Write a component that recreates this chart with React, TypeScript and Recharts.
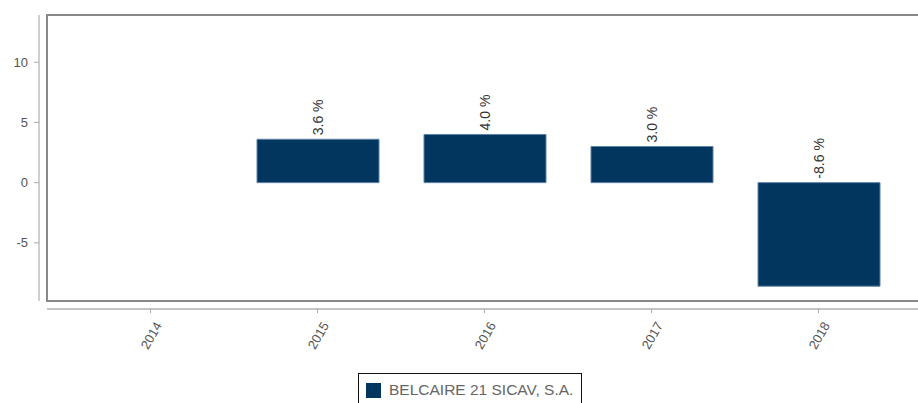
import React from "react";
import { BarChart, Bar, XAxis, YAxis, LabelList, Legend, ReferenceArea } from "recharts";

const years = ["2014", "2015", "2016", "2017", "2018"];
const returns: (number | null)[] = [null, 3.6, 4.0, 3.0, -8.6];
const seriesName = "BELCAIRE 21 SICAV, S.A.";
const yTicks = [-5, 0, 5, 10];
const yMin = -9.83;
const yMax = 13.92;

const barColor = "#03365f";
const font = "'Liberation Sans', Arial, sans-serif";
const padLeft = 20;
const padRight = 28;

const YTick = (props: any) => {
  const { x, y, payload } = props;
  return (
    <g>
      <line x1={x - 13} x2={x - 8} y1={y} y2={y} stroke="#aaa" />
      <text x={x - 19} y={y} dy="0.35em" textAnchor="end" fill="#555" fontSize={13} fontFamily={font}>
        {payload.value}
      </text>
    </g>
  );
};

const XTick = (props: any) => {
  const { x, y, payload } = props;
  const tx = x + 8;
  const ty = y + 22;
  return (
    <g>
      <line x1={x} x2={x} y1={y + 8} y2={y + 12} stroke="#aaa" />
      <text
        x={tx}
        y={ty}
        dy="0.35em"
        textAnchor="end"
        fill="#555"
        fontSize={13}
        fontFamily={font}
        transform={`rotate(-60, ${tx}, ${ty})`}
      >
        {payload.value}
      </text>
    </g>
  );
};

const ValueLabel = (props: any) => {
  const { x, y, width, height, value } = props;
  if (value === null || value === undefined) return null;
  const top = Math.min(y, y + height);
  const cx = x + width / 2;
  const ty = top - 4;
  return (
    <text
      x={cx}
      y={ty}
      dy="0.35em"
      textAnchor="start"
      fill="#333"
      fontSize={14}
      fontFamily={font}
      transform={`rotate(-90, ${cx}, ${ty})`}
    >
      {`${Number(value).toFixed(1)} %`}
    </text>
  );
};

// plot frame: the reference area spans the padded band range, so widen it back to the plot edges
const PlotFrame = (props: any) => {
  const { x, y, width, height } = props;
  return (
    <rect
      x={x - padLeft}
      y={y}
      width={width + padLeft + padRight}
      height={height}
      fill="none"
      stroke="#888"
      strokeWidth={2}
    />
  );
};

const LegendBox = () => (
  <div
    style={{
      display: "inline-flex",
      alignItems: "center",
      border: "1.5px solid #111",
      padding: "7px 8px 12px 7px",
      fontFamily: font,
      fontSize: 15.5,
      color: "#666",
      background: "#fff",
    }}
  >
    <span style={{ width: 15, height: 15, background: barColor, marginRight: 8, display: "inline-block" }} />
    <span>{seriesName}</span>
  </div>
);

export default function App() {
  const data = years.map((year, i) => ({ year, value: returns[i] }));
  return (
    <div style={{ position: "absolute", left: 0, top: 0, width: 918, height: 403, overflow: "hidden", background: "#fff" }}>
      <BarChart
        width={930}
        height={403}
        data={data}
        margin={{ top: 15, right: 0, bottom: 3, left: 0 }}
        style={{ fontFamily: font }}
      >
        <ReferenceArea y1={yMax} y2={yMin} ifOverflow="visible" shape={<PlotFrame />} />
        <XAxis
          dataKey="year"
          height={60}
          padding={{ left: padLeft, right: padRight }}
          tickSize={0}
          tickMargin={0}
          tick={<XTick />}
          tickLine={false}
          axisLine={{ stroke: "#c4c4c4", strokeWidth: 2, transform: "translate(0,8)" }}
          interval={0}
        />
        <YAxis
          width={47}
          domain={[yMin, yMax]}
          ticks={yTicks}
          allowDataOverflow
          tickSize={0}
          tickMargin={0}
          tick={<YTick />}
          tickLine={false}
          axisLine={{ stroke: "#cfcfcf", strokeWidth: 2, transform: "translate(-8,0)" }}
        />
        <Legend
          verticalAlign="bottom"
          content={<LegendBox />}
          wrapperStyle={{ left: 358, top: 373, bottom: "auto", width: "auto" }}
        />
        <Bar
          dataKey="value"
          name={seriesName}
          fill={barColor}
          stroke="#5d81a8"
          strokeWidth={1}
          barSize={122}
          isAnimationActive={false}
        >
          <LabelList dataKey="value" content={<ValueLabel />} />
        </Bar>
      </BarChart>
    </div>
  );
}
